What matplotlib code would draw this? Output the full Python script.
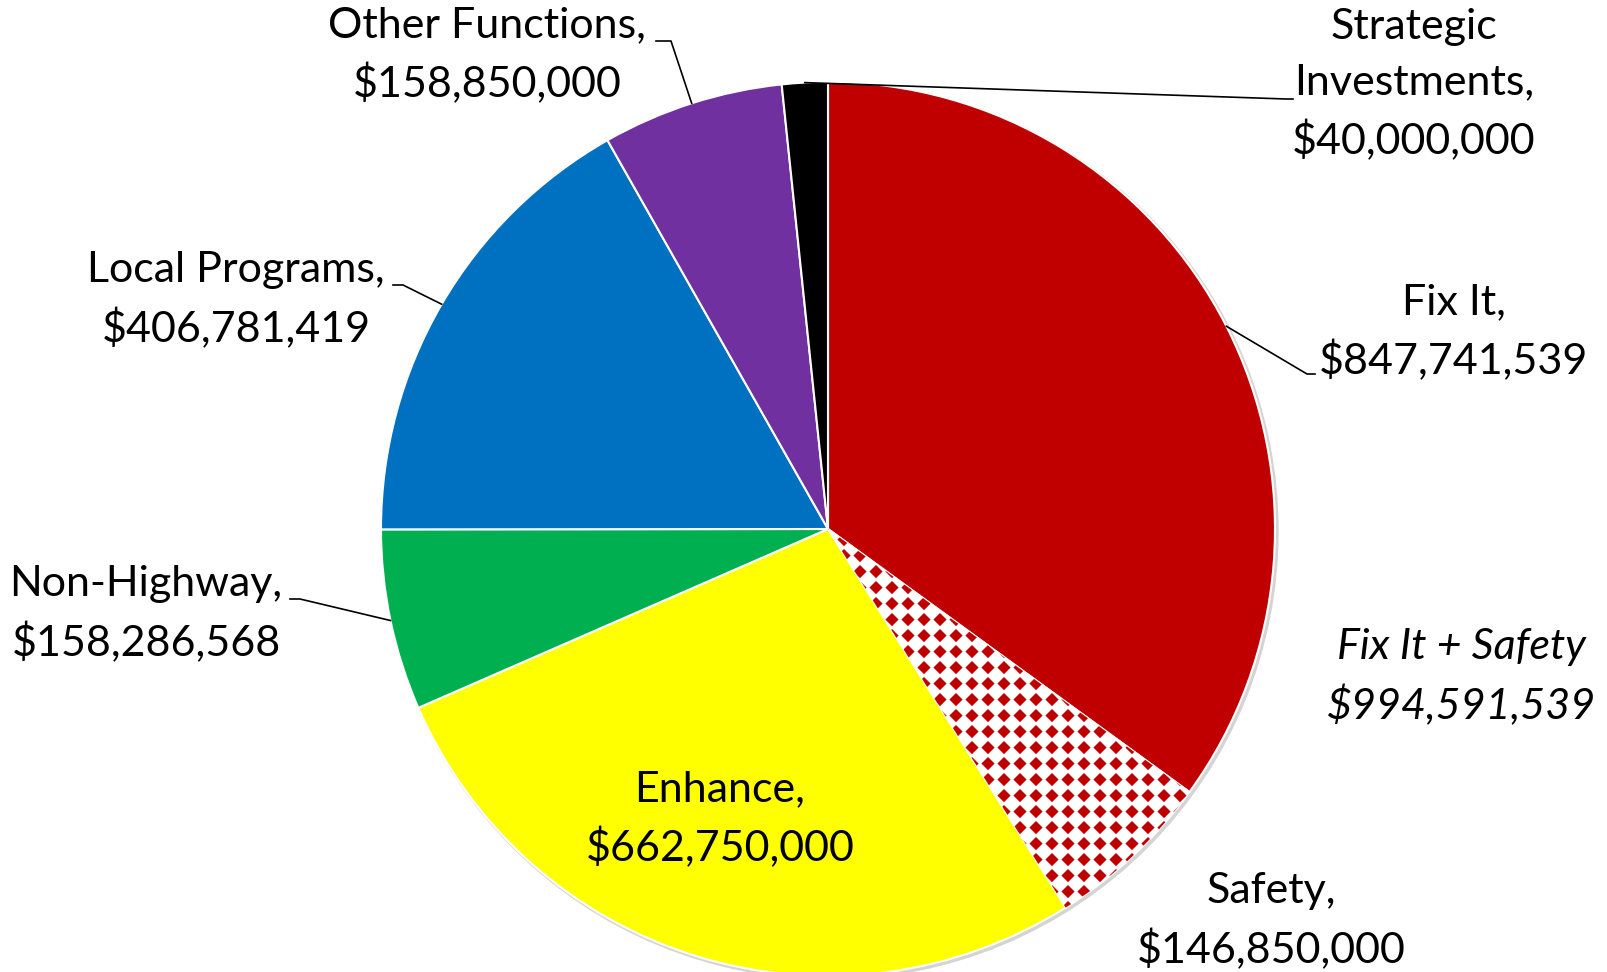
import matplotlib.pyplot as plt
from matplotlib.patches import Circle
from matplotlib.collections import PolyCollection
import numpy as np

# Budget by category, clockwise from 12 o'clock
names = ["Fix It", "Safety", "Enhance", "Non-Highway", "Local Programs",
         "Other Functions", "Strategic\nInvestments"]
amounts = [847741539, 146850000, 662750000, 158286568, 406781419,
           158850000, 40000000]
colors = ["#C00000", "white", "#FFFF00", "#00B050", "#0070C0",
          "#7030A0", "#000000"]
combined_label = "Fix It + Safety"

plt.rcParams["font.family"] = ["Lato", "DejaVu Sans"]

W, H = 1607, 972
fig = plt.figure(figsize=(W / 100, H / 100), dpi=100)
ax = fig.add_axes([0, 0, 1, 1])

cx, cy, R = 828, H - 529, 447

# soft shadow behind the pie
ax.add_patch(Circle((cx + 2, cy - 2), R + 1, color="#d4d4d4", zorder=0))

wedges, _ = ax.pie(amounts, colors=colors, startangle=90, counterclock=False,
                   center=(cx, cy), radius=R,
                   wedgeprops=dict(edgecolor="white", linewidth=1.5))
for w in wedges:
    w.set_zorder(1)

# Safety slice: red diamond pattern on white, clipped to the wedge
sw = wedges[1]
pitch, half = 16, 6.6
ext = sw.get_path().get_extents(sw.get_patch_transform())
gx = np.arange(ext.x0 - pitch, ext.x1 + pitch, pitch)
gy = np.arange(ext.y0 - pitch, ext.y1 + pitch, pitch)
diamonds = [[(x - half, y), (x, y + half), (x + half, y), (x, y - half)]
            for x in gx for y in gy]
pc = PolyCollection(diamonds, facecolor="#C00000", edgecolor="none", zorder=2)
ax.add_collection(pc)
pc.set_clip_path(sw)


def money(v):
    return "${:,.0f}".format(v)


def edge_point(i):
    w = wedges[i]
    a = np.deg2rad((w.theta1 + w.theta2) / 2)
    return cx + R * np.cos(a), cy + R * np.sin(a)


fs = 31
ls = 1.55

# label text positions (x, y) in pixels from top-left
label_pos = {
    0: (1454, 332),
    1: (1271, 921),
    2: (720, 819),
    3: (146, 614),
    4: (236, 300),
    5: (487, 55),
    6: (1414, 85),
}
for i, (x, y) in label_pos.items():
    ax.text(x, H - y, names[i] + ",\n" + money(amounts[i]), fontsize=fs,
            ha="center", va="center", linespacing=ls, zorder=5)

ax.text(1461, H - 677, combined_label + "\n" + money(amounts[0] + amounts[1]),
        fontsize=fs, style="italic", ha="center", va="center",
        linespacing=ls, zorder=5)

# leader lines: slice edge -> elbow -> label
leaders = {
    0: [(1307, 374), (1315, 374)],
    3: [(300, 599), (290, 599)],
    4: [(403, 285), (393, 285)],
    5: [(671, 41), (656, 41)],
    6: [(1286, 99), (1293, 99)],
}
for i, pts in leaders.items():
    x0, y0 = edge_point(i)
    xs = [x0] + [p[0] for p in pts]
    ys = [y0] + [H - p[1] for p in pts]
    ax.plot(xs, ys, color="black", linewidth=1.2, zorder=4)

ax.set_xlim(0, W)
ax.set_ylim(0, H)
ax.set_aspect("equal")
ax.axis("off")

fig.savefig("out.png", dpi=100, facecolor="white")
